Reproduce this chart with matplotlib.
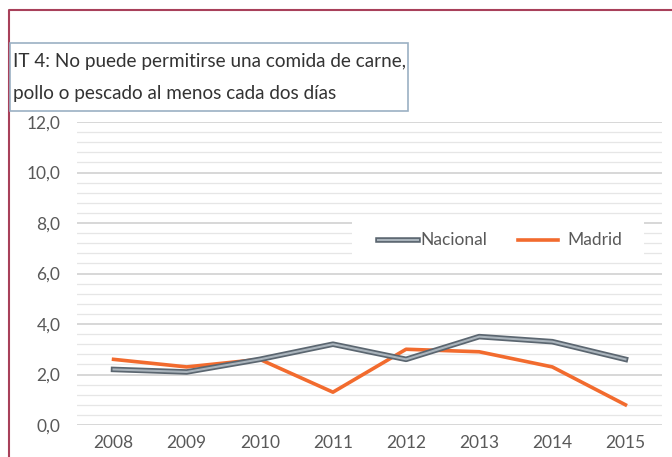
import matplotlib.pyplot as plt
import numpy as np
from matplotlib.patches import Rectangle
from matplotlib.lines import Line2D

years = [2008, 2009, 2010, 2011, 2012, 2013, 2014, 2015]
nacional = [2.2, 2.1, 2.6, 3.2, 2.6, 3.5, 3.3, 2.6]
madrid = [2.6, 2.3, 2.6, 1.3, 3.0, 2.9, 2.3, 0.8]
yticks = [0, 2, 4, 6, 8, 10, 12]
ytick_labels = ['0,0', '2,0', '4,0', '6,0', '8,0', '10,0', '12,0']
title_lines = ['IT 4: No puede permitirse una comida de carne,',
               'pollo o pescado al menos cada dos días']

plt.rcParams['font.family'] = ['Lato', 'DejaVu Sans']
W, H = 672, 457
fig = plt.figure(figsize=(W / 100, H / 100), dpi=100)
fig.patch.set_facecolor('white')

ax = fig.add_axes([77 / W, 1 - 425 / H, 585 / W, 303 / H])
ax.set_xlim(2007.5, 2015.5)
ax.set_ylim(0, 12)
for s in ax.spines.values():
    s.set_visible(False)

# minor and major gridlines
for y in np.arange(0, 12.01, 0.4):
    major = abs(y / 2 - round(y / 2)) < 1e-6
    ax.axhline(y, color='#d4d4d4' if major else '#e6e6e6',
               lw=1.3 if major else 0.9, zorder=0)

ax.plot(years, nacional, color='#5b6670', lw=4.0, solid_joinstyle='round', zorder=3)
ax.plot(years, nacional, color='#aab4bc', lw=1.5, solid_joinstyle='round', zorder=4)
ax.plot(years, madrid, color='#f26b2e', lw=2.6, zorder=2)

ax.set_yticks(yticks)
ax.set_yticklabels(ytick_labels)
ax.set_xticks(years)
ax.set_xticklabels([str(y) for y in years])
ax.tick_params(length=0, labelsize=12.5, colors='#595959')
ax.tick_params(axis='y', pad=12)
ax.tick_params(axis='x', pad=7)

# legend with white background
fig.patches.append(Rectangle((352 / W, 1 - 258 / H), 292 / W, 36 / H,
                             transform=fig.transFigure, facecolor='white',
                             edgecolor='none', zorder=5))
ly = 1 - 240 / H
fig.lines.append(Line2D([378 / W, 418 / W], [ly, ly], transform=fig.transFigure,
                        color='#5b6670', lw=4.0, zorder=6))
fig.lines.append(Line2D([378 / W, 418 / W], [ly, ly], transform=fig.transFigure,
                        color='#aab4bc', lw=1.5, zorder=7))
fig.text(420 / W, ly, 'Nacional', fontsize=12.5, color='#595959', va='center', zorder=8)
fig.lines.append(Line2D([518 / W, 558 / W], [ly, ly], transform=fig.transFigure,
                        color='#f26b2e', lw=2.6, zorder=6))
fig.text(567 / W, ly, 'Madrid', fontsize=12.5, color='#595959', va='center', zorder=8)

# outer border
fig.lines.append(Line2D([9 / W, 9 / W, 1], [0, 1 - 10 / H, 1 - 10 / H],
                        transform=fig.transFigure, color='#a8405a', lw=1.5))

# title box
fig.patches.append(Rectangle((10 / W, 1 - 111 / H), 398 / W, 68 / H,
                             transform=fig.transFigure, facecolor='white',
                             edgecolor='#9bb0c4', lw=1.2, zorder=5))
for i, line in enumerate(title_lines):
    fig.text(13 / W, 1 - (62 + 31 * i) / H, line, fontsize=13.6, color='#333333',
             va='center', ha='left', zorder=6)

fig.savefig('out.png', dpi=100)
